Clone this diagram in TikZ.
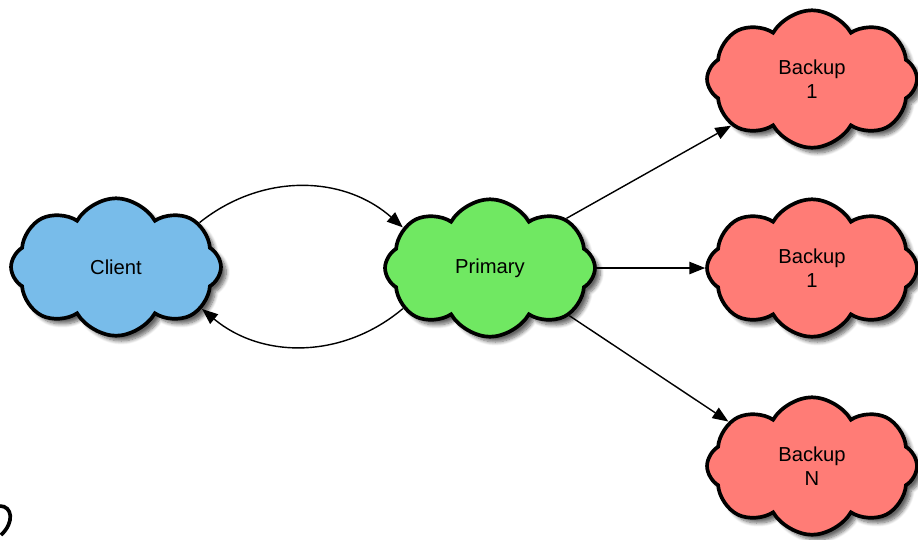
\documentclass[tikz,border=0pt]{standalone}
\usepackage{fontspec}
\setmainfont{Liberation Sans}
\usetikzlibrary{arrows,arrows.meta,shapes.symbols,shadows.blur}

\definecolor{cloudblue}{RGB}{120,188,234}
\definecolor{cloudgreen}{RGB}{112,232,98}
\definecolor{cloudred}{RGB}{255,124,118}

\begin{document}
\begin{tikzpicture}[
x=0.02cm,y=-0.02cm,
obj/.style={cloud,cloud puffs=8,cloud puff arc=120,cloud ignores aspect,shape border rotate=22.5,draw,line width=2.1pt,minimum width=4.2cm,minimum height=2.75cm,align=center,font=\fontsize{11.5}{14}\selectfont,blur shadow={shadow xshift=3pt,shadow yshift=-3pt,shadow blur steps=8,shadow opacity=60}},
arrow/.style={-{Triangle[length=9pt,width=7pt]},line width=0.8pt}]

\useasboundingbox (0,0) rectangle (918,539);

\node[obj,fill=cloudblue] (C) at (116,267) {Client};

\node[obj,fill=cloudgreen] (P) at (490,268) {Primary};

\node[obj,fill=cloudred] (B1) at (812,79) {Backup\\1};

\node[obj,fill=cloudred] (B2) at (812,268) {Backup\\1};

\node[obj,fill=cloudred] (BN) at (812,466) {Backup\\N};


\draw[arrow] (C.28) to[bend left=40] (P.155);

\draw[arrow] (P.205) to[bend left=40] (C.334);

\draw[arrow] (P.33) -- (B1.210);

\draw[arrow] (P.east) -- (B2.west);

\draw[arrow] (P.329) -- (BN.152);

\draw[line width=2.1pt] (0,506) .. controls (12,506) and (15,522) .. (1,535);

\end{tikzpicture}
\end{document}
